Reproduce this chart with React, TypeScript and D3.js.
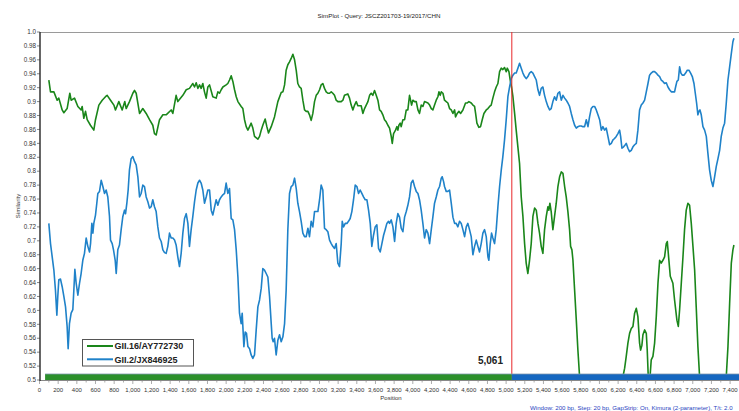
import React from 'react';
import * as d3 from 'd3';

const title = 'SimPlot - Query: JSCZ201703-19/2017/CHN';
const footnote = 'Window: 200 bp, Step: 20 bp, GapStrip: On, Kimura (2-parameter), T/t: 2.0';
const seriesNames = ['GII.16/AY772730', 'GII.2/JX846925'];
const breakpoint = 5061;
const barStart = 60;

const yTickValues = [0.5, 0.52, 0.54, 0.56, 0.58, 0.6, 0.62, 0.64, 0.66, 0.68, 0.7, 0.72, 0.74, 0.76, 0.78, 0.8, 0.82, 0.84, 0.86, 0.88, 0.9, 0.92, 0.94, 0.96, 0.98, 1.0];
const xTickValues = [0, 200, 400, 600, 800, 1000, 1200, 1400, 1600, 1800, 2000, 2200, 2400, 2600, 2800, 3000, 3200, 3400, 3600, 3800, 4000, 4200, 4400, 4600, 4800, 5000, 5200, 5400, 5600, 5800, 6000, 6200, 6400, 6600, 6800, 7000, 7200, 7400];

const greenPos = [100,118,154,189,207,243,261,296,325,339,375,411,446,457,475,493,511,546,582,600,636,672,707,725,761,797,814,850,886,914,929,964,1000,1018,1036,1072,1107,1143,1179,1214,1232,1250,1286,1322,1357,1411,1429,1464,1482,1536,1572,1607,1643,1661,1679,1697,1715,1732,1750,1768,1786,1804,1822,1857,1893,1911,1929,1947,1965,2000,2018,2036,2054,2072,2090,2108,2126,2161,2179,2197,2215,2233,2251,2268,2286,2304,2340,2358,2376,2393,2418,2436,2454,2483,2518,2554,2590,2608,2626,2643,2661,2679,2697,2715,2733,2751,2768,2786,2804,2822,2840,2858,2876,2893,2911,2929,2947,2965,2983,3001,3018,3036,3054,3072,3090,3108,3126,3143,3161,3179,3197,3233,3251,3268,3304,3322,3340,3358,3376,3394,3411,3447,3465,3483,3501,3519,3537,3554,3572,3590,3608,3626,3644,3661,3679,3697,3715,3733,3751,3769,3780,3794,3815,3830,3840,3851,3865,3876,3894,3912,3930,3947,3965,3976,3987,4001,4019,4037,4055,4072,4090,4108,4126,4162,4180,4198,4215,4233,4251,4269,4280,4294,4305,4323,4340,4358,4376,4394,4412,4430,4448,4458,4476,4494,4512,4537,4565,4583,4601,4626,4644,4662,4673,4687,4708,4726,4744,4762,4787,4805,4823,4840,4858,4876,4894,4912,4930,4948,4965,4983,5001,5012,5030,5044,5058,5073,5091,5108,5126,5144,5162,5180,5198,5215,5233,5251,5269,5287,5305,5323,5341,5358,5376,5394,5412,5430,5448,5458,5469,5483,5501,5519,5537,5555,5573,5591,5609,5627,5644,5662,5680,5691,5705,5716,5734,5752,5769,5787,5830,6000,6200,6252,6270,6287,6305,6323,6341,6359,6377,6395,6412,6430,6441,6455,6466,6484,6502,6512,6523,6537,6555,6573,6591,6609,6627,6645,6662,6680,6698,6716,6727,6741,6759,6787,6805,6830,6845,6859,6877,6895,6912,6930,6948,6966,6984,7002,7020,7037,7055,7073,7109,7288,7359,7377,7395,7413,7430,7441];
const greenSim = [0.931,0.914,0.914,0.902,0.905,0.888,0.884,0.890,0.912,0.902,0.905,0.893,0.888,0.893,0.876,0.886,0.874,0.866,0.859,0.874,0.895,0.902,0.907,0.909,0.902,0.895,0.888,0.900,0.888,0.900,0.890,0.900,0.912,0.916,0.912,0.883,0.890,0.883,0.874,0.866,0.854,0.852,0.874,0.881,0.881,0.888,0.883,0.909,0.900,0.909,0.917,0.919,0.926,0.921,0.927,0.919,0.924,0.919,0.926,0.914,0.905,0.921,0.924,0.907,0.905,0.914,0.912,0.917,0.921,0.924,0.926,0.931,0.937,0.929,0.917,0.907,0.900,0.893,0.890,0.874,0.864,0.859,0.864,0.869,0.862,0.850,0.846,0.850,0.859,0.866,0.875,0.864,0.855,0.864,0.878,0.900,0.913,0.914,0.924,0.945,0.953,0.957,0.962,0.968,0.960,0.945,0.926,0.921,0.919,0.902,0.888,0.886,0.886,0.881,0.873,0.883,0.900,0.909,0.912,0.917,0.924,0.926,0.919,0.914,0.912,0.912,0.914,0.912,0.909,0.902,0.900,0.900,0.902,0.909,0.911,0.905,0.895,0.888,0.895,0.900,0.894,0.894,0.883,0.890,0.895,0.900,0.909,0.912,0.909,0.916,0.909,0.902,0.888,0.886,0.881,0.874,0.871,0.866,0.862,0.850,0.840,0.854,0.859,0.864,0.859,0.866,0.869,0.864,0.874,0.874,0.888,0.888,0.909,0.902,0.895,0.902,0.900,0.900,0.888,0.883,0.895,0.893,0.900,0.898,0.895,0.890,0.888,0.895,0.902,0.907,0.914,0.909,0.914,0.912,0.902,0.900,0.898,0.890,0.888,0.883,0.888,0.878,0.883,0.886,0.883,0.888,0.898,0.898,0.900,0.898,0.895,0.893,0.883,0.869,0.863,0.864,0.874,0.883,0.888,0.890,0.893,0.895,0.905,0.914,0.921,0.926,0.943,0.948,0.946,0.949,0.943,0.948,0.943,0.931,0.921,0.907,0.883,0.859,0.835,0.811,0.763,0.735,0.696,0.668,0.653,0.672,0.696,0.735,0.747,0.744,0.725,0.711,0.692,0.682,0.716,0.735,0.749,0.744,0.754,0.742,0.716,0.735,0.754,0.778,0.792,0.799,0.797,0.778,0.763,0.742,0.716,0.692,0.687,0.672,0.629,0.586,0.543,0.505,0.46,0.43,0.46,0.505,0.517,0.534,0.553,0.567,0.574,0.577,0.596,0.603,0.591,0.553,0.543,0.550,0.565,0.572,0.567,0.543,0.505,0.495,0.529,0.534,0.553,0.591,0.639,0.672,0.668,0.672,0.677,0.696,0.699,0.677,0.649,0.639,0.615,0.586,0.577,0.601,0.639,0.677,0.716,0.744,0.754,0.751,0.725,0.692,0.658,0.605,0.548,0.505,0.46,0.44,0.505,0.548,0.610,0.668,0.687,0.694];

const bluePos = [100,118,136,154,171,186,196,207,225,243,261,279,296,307,321,339,357,368,379,393,411,429,446,464,482,500,518,536,547,561,572,582,600,614,625,643,661,679,697,714,732,750,761,779,793,811,822,839,857,875,893,911,922,936,950,964,982,1000,1018,1036,1054,1072,1089,1107,1125,1143,1161,1179,1197,1214,1232,1250,1268,1286,1304,1322,1340,1357,1375,1393,1411,1429,1447,1464,1482,1500,1518,1536,1554,1572,1590,1607,1625,1643,1661,1679,1697,1715,1732,1750,1768,1786,1804,1822,1840,1857,1893,1911,1929,1947,1965,1983,2000,2018,2036,2054,2072,2090,2108,2126,2143,2161,2172,2190,2204,2218,2233,2251,2268,2286,2304,2322,2340,2358,2376,2393,2411,2429,2447,2465,2483,2493,2504,2518,2536,2554,2572,2590,2608,2626,2643,2661,2679,2697,2715,2733,2751,2768,2786,2804,2822,2840,2858,2876,2893,2911,2929,2947,2965,2983,3001,3018,3036,3054,3072,3090,3108,3126,3143,3161,3179,3197,3215,3233,3244,3258,3276,3294,3311,3329,3347,3365,3383,3401,3419,3436,3454,3472,3490,3508,3526,3544,3561,3579,3597,3615,3633,3651,3669,3687,3704,3722,3740,3751,3769,3787,3805,3822,3840,3858,3876,3894,3912,3930,3947,3965,3983,4001,4019,4037,4055,4072,4090,4108,4126,4144,4162,4180,4198,4215,4233,4251,4269,4287,4305,4315,4330,4340,4358,4376,4394,4412,4430,4448,4465,4483,4501,4519,4537,4555,4573,4590,4608,4626,4644,4662,4680,4698,4715,4733,4751,4769,4787,4805,4815,4830,4844,4858,4876,4894,4912,4930,4948,4965,4983,5001,5019,5037,5055,5073,5091,5108,5126,5144,5162,5180,5198,5215,5233,5251,5269,5287,5305,5323,5341,5358,5376,5394,5412,5430,5448,5466,5483,5501,5519,5537,5555,5573,5591,5609,5627,5644,5662,5680,5698,5716,5734,5752,5769,5787,5805,5823,5841,5859,5877,5894,5912,5930,5948,5966,5984,6002,6020,6037,6055,6073,6091,6109,6127,6145,6162,6180,6198,6216,6227,6241,6259,6277,6287,6305,6323,6341,6359,6377,6395,6412,6430,6448,6466,6484,6502,6520,6537,6555,6573,6591,6609,6627,6645,6662,6680,6698,6716,6734,6752,6770,6787,6805,6816,6830,6845,6859,6873,6887,6905,6923,6941,6959,6977,6995,7013,7027,7041,7055,7066,7077,7091,7109,7127,7145,7162,7180,7198,7216,7234,7252,7270,7288,7305,7323,7341,7359,7377,7395,7413,7430,7441];
const blueSim = [0.725,0.696,0.677,0.658,0.629,0.593,0.620,0.644,0.645,0.634,0.620,0.605,0.577,0.545,0.581,0.596,0.601,0.629,0.659,0.639,0.622,0.639,0.653,0.672,0.682,0.704,0.692,0.684,0.696,0.725,0.711,0.725,0.737,0.754,0.768,0.771,0.787,0.778,0.768,0.773,0.763,0.735,0.701,0.696,0.687,0.672,0.653,0.687,0.694,0.716,0.735,0.744,0.739,0.754,0.773,0.802,0.818,0.821,0.814,0.809,0.792,0.763,0.768,0.780,0.778,0.763,0.756,0.747,0.749,0.759,0.749,0.742,0.720,0.704,0.699,0.687,0.683,0.682,0.692,0.711,0.704,0.704,0.701,0.694,0.677,0.663,0.682,0.711,0.732,0.739,0.725,0.692,0.716,0.735,0.756,0.773,0.783,0.787,0.783,0.773,0.754,0.763,0.773,0.773,0.744,0.737,0.759,0.751,0.759,0.763,0.766,0.768,0.783,0.768,0.775,0.732,0.730,0.716,0.687,0.648,0.596,0.581,0.596,0.548,0.569,0.567,0.548,0.545,0.536,0.531,0.536,0.572,0.605,0.615,0.632,0.660,0.658,0.653,0.648,0.620,0.581,0.560,0.555,0.560,0.536,0.557,0.565,0.555,0.562,0.581,0.629,0.716,0.768,0.778,0.780,0.790,0.775,0.754,0.742,0.728,0.711,0.706,0.706,0.718,0.706,0.728,0.720,0.742,0.742,0.742,0.759,0.780,0.773,0.718,0.716,0.713,0.701,0.696,0.692,0.689,0.696,0.668,0.663,0.696,0.728,0.720,0.725,0.725,0.728,0.732,0.742,0.759,0.780,0.778,0.768,0.773,0.768,0.763,0.759,0.759,0.744,0.725,0.692,0.708,0.720,0.723,0.689,0.684,0.696,0.708,0.716,0.725,0.728,0.725,0.730,0.720,0.699,0.725,0.739,0.734,0.718,0.713,0.734,0.742,0.751,0.763,0.783,0.787,0.778,0.771,0.768,0.759,0.744,0.725,0.704,0.716,0.711,0.696,0.716,0.734,0.754,0.763,0.773,0.778,0.790,0.792,0.785,0.778,0.771,0.771,0.773,0.754,0.734,0.725,0.725,0.720,0.728,0.725,0.716,0.706,0.720,0.725,0.716,0.706,0.680,0.692,0.701,0.692,0.684,0.696,0.711,0.716,0.706,0.677,0.672,0.696,0.711,0.704,0.696,0.716,0.749,0.778,0.802,0.821,0.845,0.874,0.907,0.921,0.933,0.938,0.941,0.941,0.948,0.955,0.948,0.941,0.936,0.933,0.936,0.941,0.943,0.941,0.936,0.931,0.917,0.909,0.919,0.921,0.909,0.900,0.893,0.888,0.890,0.900,0.907,0.902,0.912,0.914,0.902,0.909,0.905,0.902,0.898,0.893,0.883,0.874,0.866,0.862,0.864,0.865,0.865,0.864,0.864,0.874,0.864,0.878,0.890,0.893,0.893,0.888,0.881,0.874,0.859,0.864,0.859,0.862,0.850,0.838,0.840,0.845,0.847,0.850,0.854,0.859,0.850,0.833,0.835,0.838,0.840,0.833,0.828,0.830,0.835,0.838,0.840,0.859,0.888,0.895,0.898,0.902,0.914,0.926,0.938,0.941,0.943,0.943,0.941,0.938,0.936,0.931,0.929,0.926,0.927,0.921,0.917,0.914,0.914,0.914,0.921,0.929,0.931,0.950,0.941,0.938,0.938,0.941,0.945,0.945,0.941,0.936,0.926,0.912,0.898,0.881,0.886,0.888,0.881,0.864,0.859,0.850,0.826,0.802,0.787,0.778,0.792,0.807,0.818,0.830,0.850,0.862,0.869,0.898,0.931,0.950,0.969,0.986,0.991];

const W = 739;
const H = 411;
const L = 40;
const T = 32;
const B = 380;
const FONT = '"Liberation Sans", Arial, sans-serif';
const GREEN = '#1a861a';
const BLUE = '#1f82c9';

export default function App() {
  const x = d3.scaleLinear().domain([0, 7490]).range([39.5, 738.5]);
  const y = d3.scaleLinear().domain([0.5, 1.0]).range([B, T]);
  const line = d3.line<[number, number]>().x(d => x(d[0])).y(d => y(d[1]));
  const green = line(greenPos.map((p, i) => [p, greenSim[i]] as [number, number])) || '';
  const blue = line(bluePos.map((p, i) => [p, blueSim[i]] as [number, number])) || '';
  const minor = d3.range(0, 7500, 100);
  const fmtY = (v: number) => (Math.abs(v * 10 - Math.round(v * 10)) < 1e-6 ? v.toFixed(1) : v.toFixed(2));
  const fmtX = d3.format(',');
  const bx = x(breakpoint);

  return (
    <div style={{ position: 'absolute', left: 0, top: 0 }}>
      <svg width={W} height={H} style={{ display: 'block', background: '#fff' }} fontFamily={FONT}>
        <defs>
          <clipPath id="plot">
            <rect x={L} y={T} width={W - L} height={B - T} />
          </clipPath>
        </defs>
        <rect x={0} y={0} width={W} height={H} fill="#fff" />
        <text x={379} y={18} fontSize={6.2} textAnchor="middle" fill="#222">{title}</text>

        {/* top border */}
        <line x1={L} x2={W} y1={T + 0.5} y2={T + 0.5} stroke="#9a9a9a" strokeWidth={1} />

        {/* y ticks */}
        {yTickValues.map(v => (
          <g key={'y' + v}>
            <line x1={L - 3} x2={L} y1={y(v)} y2={y(v)} stroke="#666" strokeWidth={0.8} />
            <text x={L - 4} y={y(v) + 2.2} fontSize={6.3} textAnchor="end" fill="#333">{fmtY(v)}</text>
          </g>
        ))}
        <text transform={`translate(20,206) rotate(-90)`} fontSize={6} textAnchor="middle" fill="#333">Similarity</text>

        {/* series */}
        <g clipPath="url(#plot)">
          <path d={green} fill="none" stroke={GREEN} strokeWidth={1.6} strokeLinejoin="round" />
          <path d={blue} fill="none" stroke={BLUE} strokeWidth={1.6} strokeLinejoin="round" />
        </g>

        {/* breakpoint */}
        <line x1={bx} x2={bx} y1={T} y2={B} stroke="#e8262a" strokeWidth={1} />
        <text x={503} y={364} fontSize={10} fontWeight="bold" textAnchor="end" fill="#222">{fmtX(breakpoint)}</text>

        {/* bottom bar */}
        <rect x={x(barStart)} y={374} width={bx - x(barStart)} height={6} fill="#2b8f2b" />
        <rect x={bx} y={374} width={W - bx} height={6} fill="#1567c0" />
        <line x1={x(barStart)} x2={W} y1={374} y2={374} stroke="#7f98ad" strokeWidth={0.8} />

        {/* axes */}
        <line x1={L} x2={W} y1={B + 0.5} y2={B + 0.5} stroke="#888" strokeWidth={1} />
        <line x1={L} x2={L} y1={T} y2={B + 1} stroke="#333" strokeWidth={1.5} />
        {minor.map(v => (
          <line key={'m' + v} x1={x(v)} x2={x(v)} y1={B + 1} y2={B + (v % 200 === 0 ? 4 : 2.5)} stroke="#888" strokeWidth={0.7} />
        ))}
        {xTickValues.map(v => (
          <text key={'x' + v} x={x(v)} y={392} fontSize={6} textAnchor="middle" fill="#333">{fmtX(v)}</text>
        ))}
        <text x={391} y={400} fontSize={6} textAnchor="middle" fill="#333">Position</text>

        {/* legend */}
        <rect x={82.5} y={339.5} width={111} height={26.5} fill="#fff" stroke="#555" strokeWidth={1} />
        <line x1={87} x2={113} y1={346} y2={346} stroke={GREEN} strokeWidth={2} />
        <text x={114.5} y={349.3} fontSize={9} fontWeight="bold" fill="#222">{seriesNames[0]}</text>
        <line x1={87} x2={113} y1={359.3} y2={359.3} stroke={BLUE} strokeWidth={2} />
        <text x={114.5} y={362.6} fontSize={9} fontWeight="bold" fill="#222">{seriesNames[1]}</text>

        <text x={530} y={409.5} fontSize={6.15} fill="#2a3fc0">{footnote}</text>
      </svg>
    </div>
  );
}
